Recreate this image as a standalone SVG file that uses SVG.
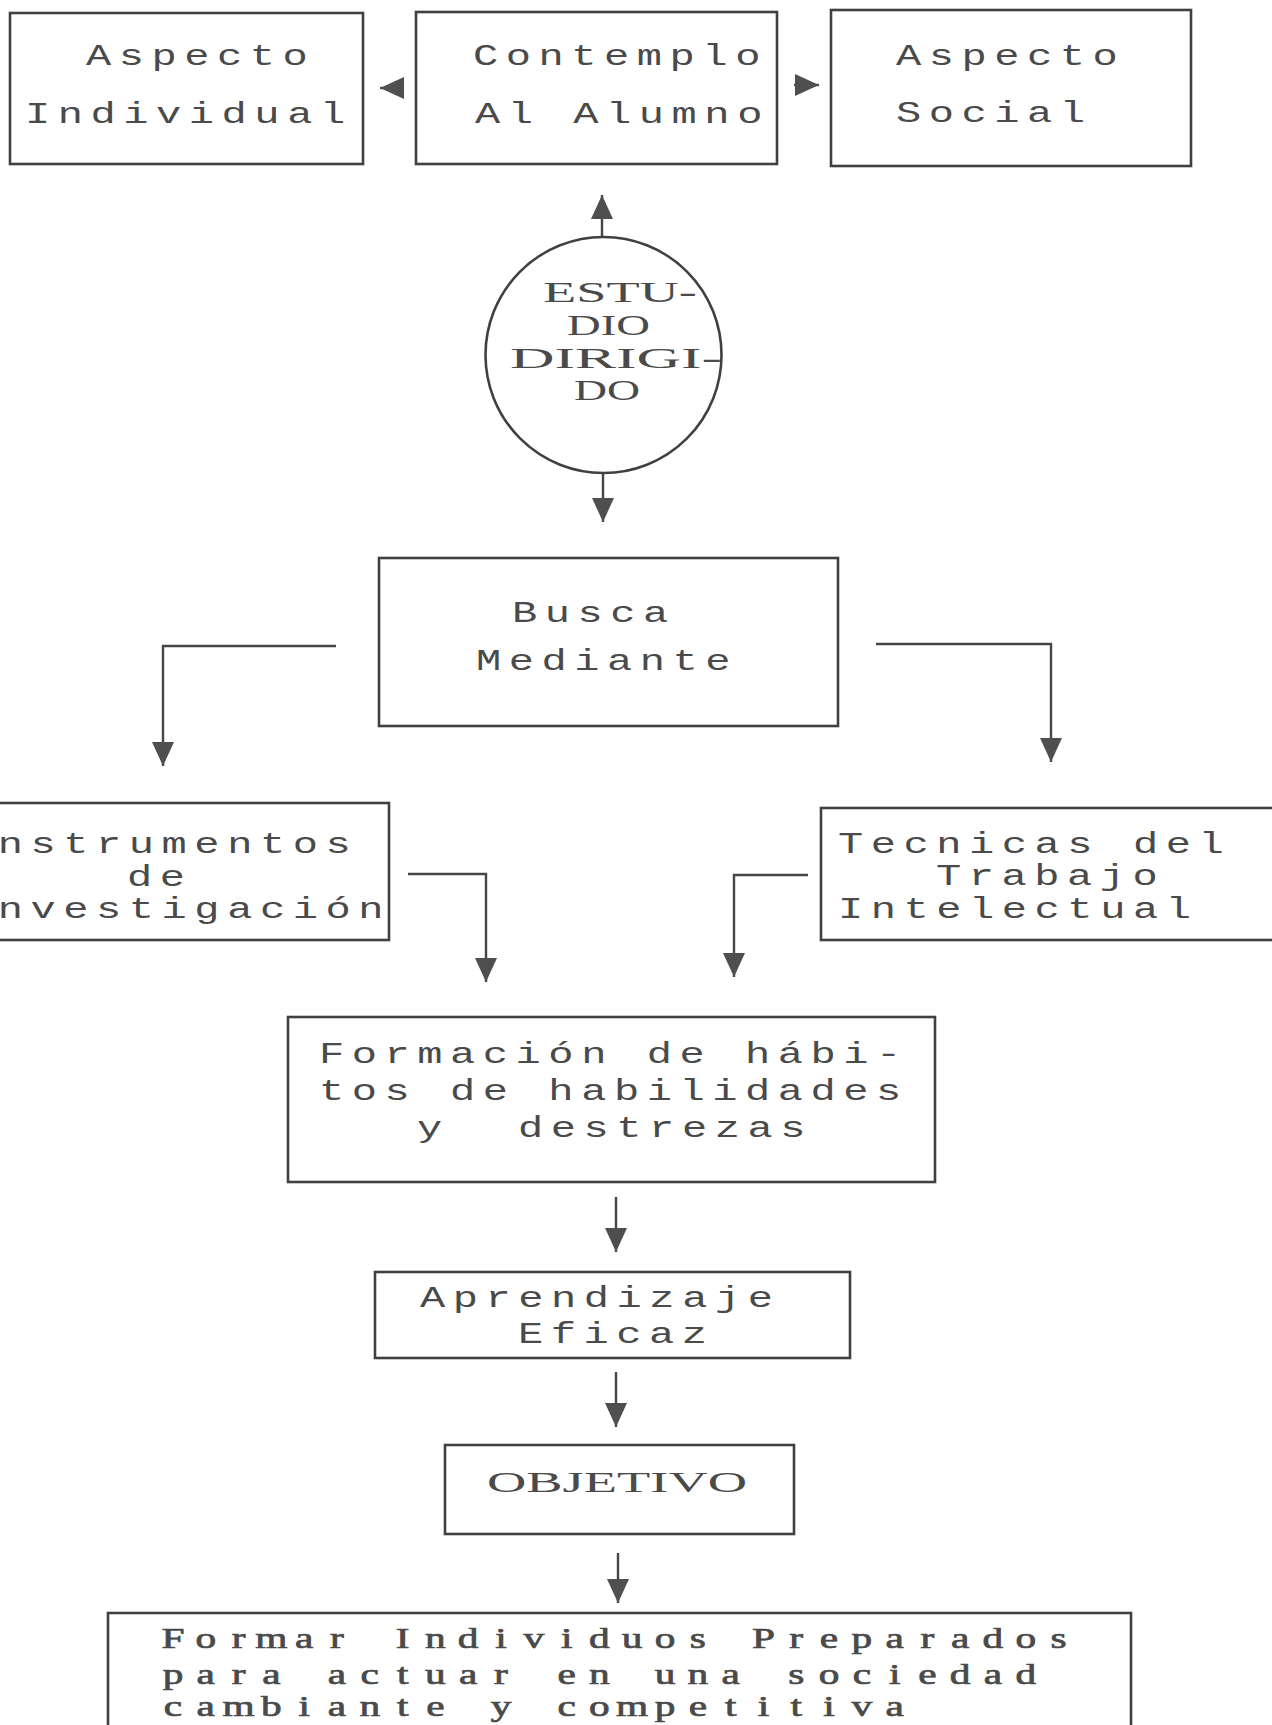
<svg xmlns="http://www.w3.org/2000/svg" width="1272" height="1725" viewBox="0 0 1272 1725">
<style>
.bg{fill:#ffffff}
.box{fill:none;stroke:#404040;stroke-width:2.6}
.conn{fill:none;stroke:#454545;stroke-width:2.4}
.mono{font-family:"Liberation Mono","Courier New",monospace;font-size:29px;fill:#4a4a4a;letter-spacing:5.2px}
.serif{font-family:"Liberation Serif","Times New Roman",serif;font-size:29px;fill:#4a4a4a}
.cell{font-family:"Liberation Serif","Times New Roman",serif;font-size:28.5px;fill:#4a4a4a;stroke:#4a4a4a;stroke-width:0.7px;text-anchor:middle}
</style>
<defs>
<marker id="arr" markerUnits="userSpaceOnUse" markerWidth="24" markerHeight="22" viewBox="0 0 24 22" refX="24" refY="11" orient="auto">
<path d="M0,0 L24,11 L0,22 z" fill="#4f4f4f"/>
</marker>
</defs>
<rect class="bg" x="0" y="0" width="1272" height="1725"/>

<g id="connectors">
<path class="conn" d="M404,88 L380,88" marker-end="url(#arr)"/>
<path class="conn" d="M794,85 L819,85" marker-end="url(#arr)"/>
<path class="conn" d="M602,237 L602,195" marker-end="url(#arr)"/>
<path class="conn" d="M603,473 L603,522" marker-end="url(#arr)"/>
<path class="conn" d="M336,646 L163,646 L163,766" marker-end="url(#arr)"/>
<path class="conn" d="M876,644 L1051,644 L1051,762" marker-end="url(#arr)"/>
<path class="conn" d="M408,874 L486,874 L486,982" marker-end="url(#arr)"/>
<path class="conn" d="M808,875 L734,875 L734,977" marker-end="url(#arr)"/>
<path class="conn" d="M616,1197 L616,1252" marker-end="url(#arr)"/>
<path class="conn" d="M616,1372 L616,1427" marker-end="url(#arr)"/>
<path class="conn" d="M618,1553 L618,1603" marker-end="url(#arr)"/>
</g>

<g id="node-aspecto-individual">
<rect class="box" x="10" y="13" width="353" height="151"/>
<text class="mono" transform="translate(86,65) scale(1.45,1)">Aspecto</text>
<text class="mono" transform="translate(25,123) scale(1.45,1)">Individual</text>
</g>

<g id="node-contemplo">
<rect class="box" x="416" y="12" width="361" height="152"/>
<text class="mono" transform="translate(473,65) scale(1.45,1)">Contemplo</text>
<text class="mono" transform="translate(475,123) scale(1.45,1)">Al Alumno</text>
</g>

<g id="node-aspecto-social">
<rect class="box" x="831" y="10" width="360" height="156"/>
<text class="mono" transform="translate(896,65) scale(1.45,1)">Aspecto</text>
<text class="mono" transform="translate(896,122) scale(1.45,1)">Social</text>
</g>

<g id="node-estudio-dirigido">
<circle cx="603.5" cy="355" r="118" fill="none" stroke="#404040" stroke-width="2.6"/>
<text class="serif" x="543" y="302" textLength="154" lengthAdjust="spacingAndGlyphs">ESTU-</text>
<text class="serif" x="567" y="335" textLength="83" lengthAdjust="spacingAndGlyphs">DIO</text>
<text class="serif" x="510" y="368" textLength="212" lengthAdjust="spacingAndGlyphs">DIRIGI-</text>
<text class="serif" x="574" y="400" textLength="66" lengthAdjust="spacingAndGlyphs">DO</text>
</g>

<g id="node-busca">
<rect class="box" x="379" y="558" width="459" height="168"/>
<text class="mono" transform="translate(512,622) scale(1.45,1)">Busca</text>
<text class="mono" transform="translate(476,670) scale(1.45,1)">Mediante</text>
</g>

<g id="node-instrumentos">
<rect class="box" x="-60" y="803" width="449" height="137"/>
<text class="mono" transform="translate(-35,853) scale(1.45,1)">Instrumentos</text>
<text class="mono" transform="translate(127,886) scale(1.45,1)">de</text>
<text class="mono" transform="translate(-35,918) scale(1.45,1)">Investigación</text>
</g>

<g id="node-tecnicas">
<rect class="box" x="821" y="808" width="500" height="132"/>
<text class="mono" transform="translate(838,853) scale(1.45,1)">Tecnicas del</text>
<text class="mono" transform="translate(936,885) scale(1.45,1)">Trabajo</text>
<text class="mono" transform="translate(838,918) scale(1.45,1)">Intelectual</text>
</g>

<g id="node-formacion">
<rect class="box" x="288" y="1017" width="647" height="165"/>
<text class="mono" transform="translate(319,1063) scale(1.45,1)">Formación de hábi-</text>
<text class="mono" transform="translate(319,1100) scale(1.45,1)">tos de habilidades</text>
<text class="mono" transform="translate(417,1137) scale(1.45,1)"><tspan x="0">y</tspan><tspan x="69.7">destrezas</tspan></text>
</g>

<g id="node-aprendizaje">
<rect class="box" x="375" y="1272" width="475" height="86"/>
<text class="mono" transform="translate(420,1307) scale(1.45,1)">Aprendizaje</text>
<text class="mono" transform="translate(518,1343) scale(1.45,1)">Eficaz</text>
</g>

<g id="node-objetivo">
<rect class="box" x="445" y="1445" width="349" height="89"/>
<text class="serif" x="487" y="1492" font-size="30" textLength="260" lengthAdjust="spacingAndGlyphs">OBJETIVO</text>
</g>

<g id="node-formar">
<rect class="box" x="108" y="1613" width="1023" height="140"/>
<g transform="scale(1.45,1)">
<text class="cell" x="119.3 141.9 164.6 187.2 209.8 232.4 255.0 277.7 300.3 322.9 345.5 368.1 390.8 413.4 436.0 458.6 481.3 503.9 526.5 549.1 571.7 594.4 617.0 639.6 662.2 684.8 707.5 730.1" y="1648">Formar Individuos Preparados</text>
<text class="cell" x="119.3 141.9 164.6 187.2 209.8 232.4 255.0 277.7 300.3 322.9 345.5 368.1 390.8 413.4 436.0 458.6 481.3 503.9 526.5 549.1 571.7 594.4 617.0 639.6 662.2 684.8 707.5" y="1684">para actuar en una sociedad</text>
<text class="cell" x="119.3 141.9 164.6 187.2 209.8 232.4 255.0 277.7 300.3 322.9 345.5 368.1 390.8 413.4 436.0 458.6 481.3 503.9 526.5 549.1 571.7 594.4 617.0" y="1716">cambiante y competitiva</text>
</g>
</g>
</svg>
